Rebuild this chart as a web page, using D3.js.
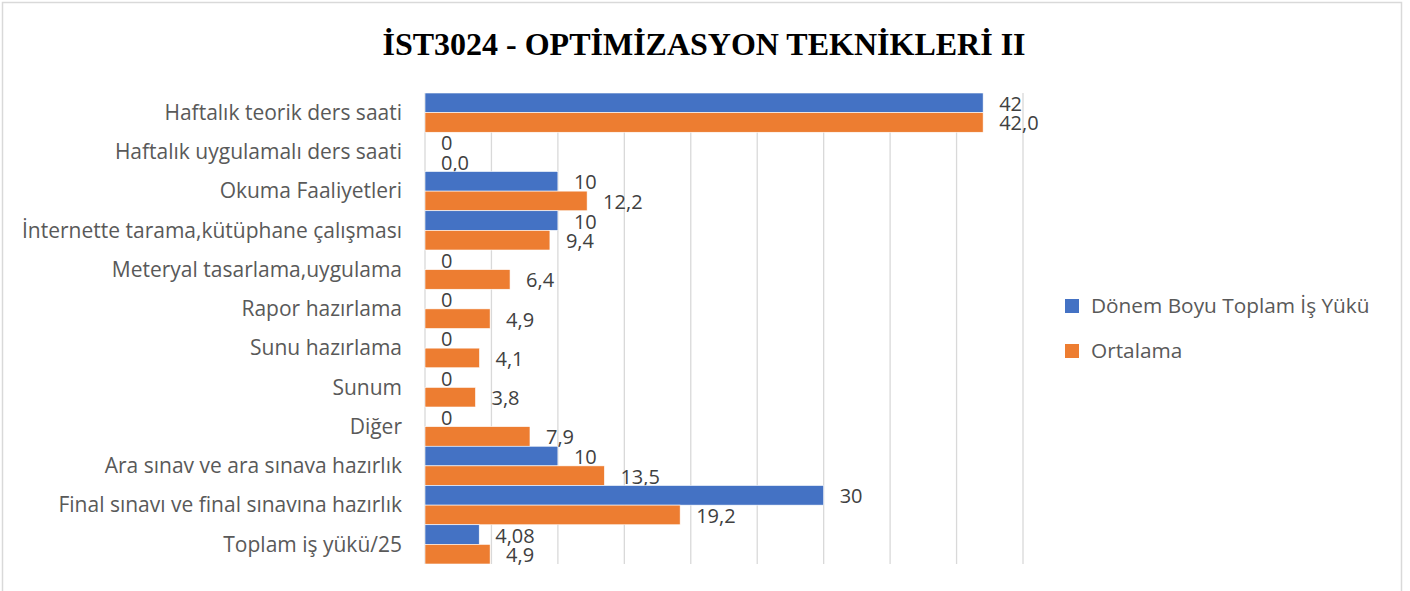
<!DOCTYPE html>
<html><head><meta charset="utf-8">
<script src="https://cdn.jsdelivr.net/npm/d3@7"></script>
<style>body{margin:0;background:#fff}svg{display:block}</style>
</head><body>
<svg id="c" width="1410" height="591"></svg>
<script>
const title = "İST3024 - OPTİMİZASYON TEKNİKLERİ II";
const categories = ["Haftalık teorik ders saati","Haftalık uygulamalı ders saati","Okuma Faaliyetleri","İnternette tarama,kütüphane çalışması","Meteryal tasarlama,uygulama","Rapor hazırlama","Sunu hazırlama","Sunum","Diğer","Ara sınav ve ara sınava hazırlık","Final sınavı ve final sınavına hazırlık","Toplam iş yükü/25"];
const seriesNames = ["Dönem Boyu Toplam İş Yükü","Ortalama"];
const donem = [42,0,10,10,0,0,0,0,0,10,30,4.08];
const ortalama = [42.0,0.0,12.2,9.4,6.4,4.9,4.1,3.8,7.9,13.5,19.2,4.9];
const colors = ["#4472C4","#ED7D31"];
const xTicks = [0,5,10,15,20,25,30,35,40,45];

const svg = d3.select("#c");
svg.append("rect").attr("x",2.5).attr("y",2.5).attr("width",1399).attr("height",620)
  .attr("fill","#fff").attr("stroke","#d9d9d9").attr("stroke-width",1.5);

svg.append("text").attr("x",704).attr("y",55).attr("text-anchor","middle")
  .attr("font-family","'Liberation Serif','Times New Roman',serif").attr("font-weight","bold")
  .attr("font-size",32).attr("fill","#000").text(title);

const x = d3.scaleLinear().domain([0,45]).range([425,1023]);
const y = d3.scaleBand().domain(categories).range([93,564]).paddingInner(0).paddingOuter(0);
const ys = d3.scaleBand().domain(seriesNames).range([0,y.bandwidth()]);

const font = "'Open Sans',sans-serif";

svg.append("g").selectAll("line").data(xTicks).join("line")
  .attr("x1",d=>x(d)).attr("x2",d=>x(d)).attr("y1",93).attr("y2",564)
  .attr("stroke","#d9d9d9").attr("stroke-width",1.3);

const data = categories.map((c,i)=>({c, vals:[donem[i], ortalama[i]]}));
const fmt = [v=>String(v).replace(".",","), v=>v.toFixed(1).replace(".",",")];

const g = svg.append("g").selectAll("g").data(data).join("g")
  .attr("transform",d=>`translate(0,${y(d.c)})`);
g.selectAll("rect").data(d=>d.vals.map((v,j)=>({v,j}))).join("rect")
  .attr("x",x(0)).attr("y",d=>ys(seriesNames[d.j])).attr("height",ys.bandwidth())
  .attr("width",d=>x(d.v)-x(0)).attr("fill",d=>colors[d.j])
  .attr("stroke","#fff").attr("stroke-width",0.6);
g.selectAll("text").data(d=>d.vals.map((v,j)=>({v,j}))).join("text")
  .attr("x",d=>x(d.v)+16).attr("y",d=>ys(seriesNames[d.j])+ys.bandwidth()/2+1)
  .attr("dy","0.35em").attr("font-family",font).attr("font-size",20).attr("fill","#404040")
  .text(d=>fmt[d.j](d.v));

svg.append("g").selectAll("text").data(categories).join("text")
  .attr("x",402).attr("y",d=>y(d)+y.bandwidth()/2).attr("dy","0.35em")
  .attr("text-anchor","end").attr("font-family",font).attr("font-size",21).attr("fill","#595959")
  .text(d=>d);

const leg = svg.append("g").selectAll("g").data(seriesNames).join("g")
  .attr("transform",(d,i)=>`translate(1065,${299+i*45})`);
leg.append("rect").attr("width",14).attr("height",14).attr("fill",(d,i)=>colors[i]);
leg.append("text").attr("x",26).attr("y",7).attr("dy","0.35em")
  .attr("font-family",font).attr("font-size",20.8).attr("fill","#595959").text(d=>d);
</script>
</body></html>
